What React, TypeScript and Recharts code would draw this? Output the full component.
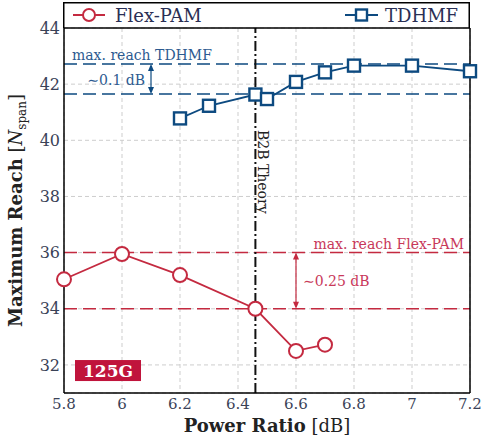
import React from "react";
import { ComposedChart, Line, XAxis, YAxis, CartesianGrid, ReferenceLine, Label } from "recharts";

// values
const seriesNames = ["Flex-PAM", "TDHMF"];
const flexRatio = [5.8, 6.0, 6.2, 6.46, 6.6, 6.7];
const flexReach = [35.05, 35.95, 35.2, 34.0, 32.5, 32.72];
const tdhmfRatio = [6.2, 6.3, 6.46, 6.5, 6.6, 6.7, 6.8, 7.0, 7.2];
const tdhmfReach = [40.78, 41.23, 41.63, 41.47, 42.08, 42.42, 42.66, 42.66, 42.46];
const xTicks = [5.8, 6, 6.2, 6.4, 6.6, 6.8, 7, 7.2];
const yTicks = [32, 34, 36, 38, 40, 42, 44];
const b2bTheory = 6.46;
const tdhmfLevels = [42.72, 41.65];
const flexLevels = [36, 34];
const tdhmfArrowX = 6.1;
const flexArrowX = 6.6;
const badgeLevel = 31.8;

const RED = "#c42a40";
const BLUE = "#0d4a80";
const FONT = "'DejaVu Serif', serif";
const TICK = "#3a4257";

const flexData = flexRatio.map((x, i) => ({ x, y: flexReach[i] }));
const tdhmfData = tdhmfRatio.map((x, i) => ({ x, y: tdhmfReach[i] }));

const fmtX = (v: number) => String(Math.round(v * 10) / 10);

const arrowShape = (color: string) => (p: any) => {
  const x = p.x1;
  const top = Math.min(p.y1, p.y2);
  const bot = Math.max(p.y1, p.y2);
  return (
    <g>
      <line x1={x} x2={x} y1={top + 2} y2={bot - 2} stroke={color} strokeWidth={1.2} />
      <path d={`M${x - 3},${top + 7} L${x},${top} L${x + 3},${top + 7} Z`} fill={color} />
      <path d={`M${x - 3},${bot - 7} L${x},${bot} L${x + 3},${bot - 7} Z`} fill={color} />
    </g>
  );
};

const SquareDot = (p: any) => {
  if (p.cx == null) return null;
  return <rect key={p.index} x={p.cx - 6} y={p.cy - 6} width={12} height={12} fill="#fff" stroke={BLUE} strokeWidth={2.4} />;
};

const YTitle = (p: any) => {
  const vb = p.viewBox || { x: 0, y: 28, width: 64, height: 365 };
  const cx = 22;
  const cy = vb.y + vb.height / 2;
  return (
    <text x={cx} y={cy} transform={`rotate(-90, ${cx}, ${cy})`} textAnchor="middle" fontFamily={FONT} fontSize={18} fill="#222">
      <tspan fontWeight="bold">Maximum Reach</tspan>
      <tspan> [</tspan>
      <tspan fontStyle="italic">N</tspan>
      <tspan fontSize={12} dy={4}>span</tspan>
      <tspan dy={-4}>]</tspan>
    </text>
  );
};

const XTitle = (p: any) => {
  const vb = p.viewBox || { x: 64, y: 393, width: 406, height: 47 };
  return (
    <text x={vb.x + vb.width / 2} y={vb.y + 39} textAnchor="middle" fontFamily={FONT} fontSize={18} fill="#222">
      <tspan fontWeight="bold">Power Ratio</tspan>
      <tspan> [dB]</tspan>
    </text>
  );
};

function LegendBox() {
  return (
    <svg width={407} height={26} style={{ position: "absolute", left: 63, top: 2 }}>
      <path d="M0.75,26 L0.75,0.75 L406.25,0.75 L406.25,26" fill="none" stroke="#000" strokeWidth={1.5} />
      <line x1={10} x2={42} y1={13} y2={13} stroke={RED} strokeWidth={2} />
      <circle cx={26} cy={13} r={6} fill="#fff" stroke={RED} strokeWidth={2} />
      <text x={52} y={20} fontFamily={FONT} fontSize={18} fill="#2a2f55">{seriesNames[0]}</text>
      <line x1={282} x2={315} y1={13} y2={13} stroke={BLUE} strokeWidth={2} />
      <rect x={293} y={7.5} width={11} height={11} fill="#fff" stroke={BLUE} strokeWidth={2.4} />
      <text x={322} y={20} fontFamily={FONT} fontSize={18} fill="#2a2f55">{seriesNames[1]}</text>
    </svg>
  );
}

export default function App() {
  return (
    <div style={{ position: "absolute", left: 0, top: 0, width: 481, height: 440, background: "#fff" }}>
      <ComposedChart width={481} height={440} margin={{ top: 28, right: 11, left: 0, bottom: 0 }}>
        <CartesianGrid stroke="#cdcdcd" strokeDasharray="4 3" />
        <XAxis
          type="number"
          dataKey="x"
          domain={[5.8, 7.2]}
          ticks={xTicks}
          tickFormatter={fmtX}
          height={47}
          tickSize={0}
          tickMargin={5}
          axisLine={{ stroke: "#000", strokeWidth: 1.5 }}
          tick={{ fill: TICK, fontSize: 15, fontFamily: FONT }}
          label={<Label content={XTitle} />}
        />
        <XAxis xAxisId="bt" type="number" domain={[5.8, 7.2]} ticks={xTicks} orientation="bottom" mirror tick={false} tickSize={4} axisLine={false} tickLine={{ stroke: "#000", strokeWidth: 1 }} height={1} />
        <XAxis xAxisId="tp" type="number" domain={[5.8, 7.2]} ticks={xTicks} orientation="top" mirror tick={false} tickSize={4} axisLine={{ stroke: "#000", strokeWidth: 1.5 }} tickLine={{ stroke: "#000", strokeWidth: 1 }} height={1} />
        <YAxis
          type="number"
          domain={[31, 44]}
          ticks={yTicks}
          width={64}
          tickSize={0}
          tickMargin={4}
          axisLine={{ stroke: "#000", strokeWidth: 1.5 }}
          tick={{ fill: TICK, fontSize: 16, fontFamily: FONT }}
          label={<Label content={YTitle} />}
        />
        <YAxis yAxisId="lt" type="number" domain={[31, 44]} ticks={yTicks} orientation="left" mirror tick={false} tickSize={4} axisLine={false} tickLine={{ stroke: "#000", strokeWidth: 1 }} width={1} />
        <YAxis yAxisId="rt" type="number" domain={[31, 44]} ticks={yTicks} orientation="right" mirror tick={false} tickSize={4} axisLine={{ stroke: "#000", strokeWidth: 1.5 }} tickLine={{ stroke: "#000", strokeWidth: 1 }} width={1} />

        <ReferenceLine
          y={tdhmfLevels[0]}
          stroke={BLUE}
          strokeWidth={1.5}
          strokeDasharray="13 6"
          label={(p: any) => (
            <text x={p.viewBox.x + 8} y={p.viewBox.y - 4} fontFamily={FONT} fontSize={14} fill="#2c5a90">max. reach TDHMF</text>
          )}
        />
        <ReferenceLine y={tdhmfLevels[1]} stroke={BLUE} strokeWidth={1.5} strokeDasharray="13 6" />
        <ReferenceLine
          y={flexLevels[0]}
          stroke={RED}
          strokeWidth={1.5}
          strokeDasharray="13 6"
          label={(p: any) => (
            <text x={p.viewBox.x + p.viewBox.width - 6} y={p.viewBox.y - 4} textAnchor="end" fontFamily={FONT} fontSize={14} fill="#c8385a">max. reach Flex-PAM</text>
          )}
        />
        <ReferenceLine y={flexLevels[1]} stroke={RED} strokeWidth={1.5} strokeDasharray="13 6" />
        <ReferenceLine
          segment={[{ x: tdhmfArrowX, y: tdhmfLevels[1] }, { x: tdhmfArrowX, y: tdhmfLevels[0] }]}
          shape={arrowShape(BLUE)}
          label={(p: any) => (
            <text x={p.viewBox.x - 6} y={p.viewBox.y + p.viewBox.height / 2 + 6} textAnchor="end" fontFamily={FONT} fontSize={14} fill="#2c5a90">∼0.1 dB</text>
          )}
        />
        <ReferenceLine
          segment={[{ x: flexArrowX, y: flexLevels[1] }, { x: flexArrowX, y: flexLevels[0] }]}
          shape={arrowShape(RED)}
          label={(p: any) => (
            <text x={p.viewBox.x + 7} y={p.viewBox.y + p.viewBox.height / 2 + 5} fontFamily={FONT} fontSize={14} fill="#c8385a">∼0.25 dB</text>
          )}
        />
        <ReferenceLine
          x={b2bTheory}
          stroke="#111"
          strokeWidth={2}
          strokeDasharray="10 3 2 3"
          label={(p: any) => {
            const x = p.viewBox.x + 3;
            const y = p.viewBox.y + 102;
            return (
              <text x={x} y={y} transform={`rotate(90, ${x}, ${y})`} fontFamily={FONT} fontSize={14} fill="#222">B2B Theory</text>
            );
          }}
        />

        <Line data={flexData} dataKey="y" name={seriesNames[0]} stroke={RED} strokeWidth={1.8} dot={{ r: 7, fill: "#fff", stroke: RED, strokeWidth: 2 }} isAnimationActive={false} />
        <Line data={tdhmfData} dataKey="y" name={seriesNames[1]} stroke={BLUE} strokeWidth={1.8} dot={SquareDot} isAnimationActive={false} />

        <ReferenceLine
          y={badgeLevel}
          stroke="none"
          label={(p: any) => (
            <g>
              <rect x={p.viewBox.x + 11} y={p.viewBox.y - 10.5} width={66} height={21} fill="#c0143c" />
              <text x={p.viewBox.x + 44} y={p.viewBox.y + 6} textAnchor="middle" fontFamily={FONT} fontWeight="bold" fontSize={17} fill="#fff">125G</text>
            </g>
          )}
        />
      </ComposedChart>
      <LegendBox />
    </div>
  );
}
